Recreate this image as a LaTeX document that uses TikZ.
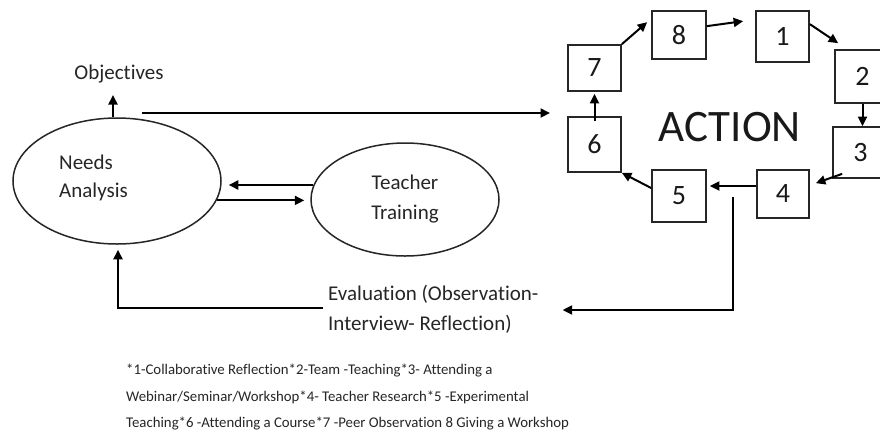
\documentclass[tikz,border=0pt]{standalone}
\usepackage{fontspec}
\setmainfont{Carlito}[Ligatures=NoCommon]
\usetikzlibrary{shapes.geometric,arrows.meta,calc}
\begin{document}
\begin{tikzpicture}[x=1pt,y=-1pt,
  conn/.style={draw=black,line width=2pt,-{Triangle[length=9.5pt,width=9pt]}},
  numbox/.style={draw=black!85,line width=1.7pt,inner sep=0pt,font=\fontsize{28}{28}\selectfont,text=black!90},
  oval/.style={ellipse,draw=black!85,line width=1.5pt,inner sep=0pt},
  lbl/.style={font=\fontsize{21}{30}\selectfont,text=black!85,inner sep=0pt},
  legend/.style={font=\fontsize{14.8}{26.5}\selectfont,text=black!85,inner sep=0pt,align=left}]
\clip (0,0) rectangle (880,432);
\fill[white] (0,0) rectangle (880,432);

% ellipses
\node[oval,minimum width=208pt,minimum height=126pt] (na) at (117,181) {};
\node[lbl,align=left,anchor=west,font=\fontsize{21}{28}\selectfont] (natxt) at (59,177.6) {Needs\\Analysis};
\node[oval,lbl,align=center,minimum width=188pt,minimum height=113pt] (tt) at (405,199.5) {Teacher\\Training};
\node[lbl,anchor=base] (obj) at (119,79) {Objectives};

% boxes
\node[numbox,minimum width=54pt,minimum height=48pt] (b8) at (679,35) {8};
\node[numbox,minimum width=53pt,minimum height=51pt] (b1) at (782.5,36.5) {1};
\node[numbox,minimum width=55pt,minimum height=53pt] (b2) at (862.5,76.5) {2};
\node[numbox,minimum width=55pt,minimum height=51pt] (b3) at (860.5,152.5) {3};
\node[numbox,minimum width=52pt,minimum height=48pt] (b4) at (783,194) {4};
\node[numbox,minimum width=54pt,minimum height=52pt] (b5) at (679,196) {5};
\node[numbox,minimum width=53pt,minimum height=55pt] (b6) at (594.5,144.5) {6};
\node[numbox,minimum width=53pt,minimum height=46pt] (b7) at (594.5,68) {7};
\node[font=\fontsize{45}{45}\selectfont,text=black!90,inner sep=0pt] (act) at (730,127) {ACTION};

% texts
\node[lbl,align=left,anchor=west] (ev) at (328,309.5) {Evaluation (Observation-\\Interview- Reflection)};
\node[legend,anchor=north west] (leg) at (126,364) {*1-Collaborative Reflection*2-Team -Teaching*3- Attending a\\Webinar/Seminar/Workshop*4- Teacher Research*5 -Experimental\\Teaching*6 -Attending a Course*7 -Peer Observation 8 Giving a Workshop};

% coordinates
\coordinate (objtip) at (113,95);
\coordinate (lstart) at (142,113);
\coordinate (lend) at (550,113);
\coordinate (evstart) at (733,197);
\coordinate (evtip) at ($(ev.east)+(24,0.5)$);

% connectors
\draw[conn] ($(na.north)+(-4,0)$) -- (objtip);
\draw[conn] (lstart) -- (lend);
\draw[conn] (tt.171) -- ($(tt.171 -| na.east)+(7,0)$);
\draw[conn] (na.-11) -- ($(na.-11 -| tt.west)+(-6,0)$);

\draw[conn] (b7.north east) -- ($(b8.north west)+(-4,12)$);
\draw[conn] ($(b8.north east)+(0,16)$) -- ($(b1.north west)+(-12,11)$);
\draw[conn] ($(b1.north east)+(0,14)$) -- ($(b2.north west)+(4,-6)$);
\draw[conn] (b2.south) -- (b2.south |- b3.north);
\draw[conn] ($(b3.south west)+(10,-5)$) -- ($(b4.north east)+(6,14)$);
\draw[conn] ($(b4.west)+(0,-8)$) -- ($(b5.east)+(3,-10)$);
\draw[conn] ($(b5.west)+(0,-8)$) -- (b6.south east);
\draw[conn] ($(b6.north)+(0,5)$) -- ($(b7.south)+(0,2)$);

\draw[conn] (evstart) |- (evtip);
\draw[conn] ($(ev.west)+(-5,-1.5)$) -| ($(na.south)+(1,5)$);
\end{tikzpicture}
\end{document}
